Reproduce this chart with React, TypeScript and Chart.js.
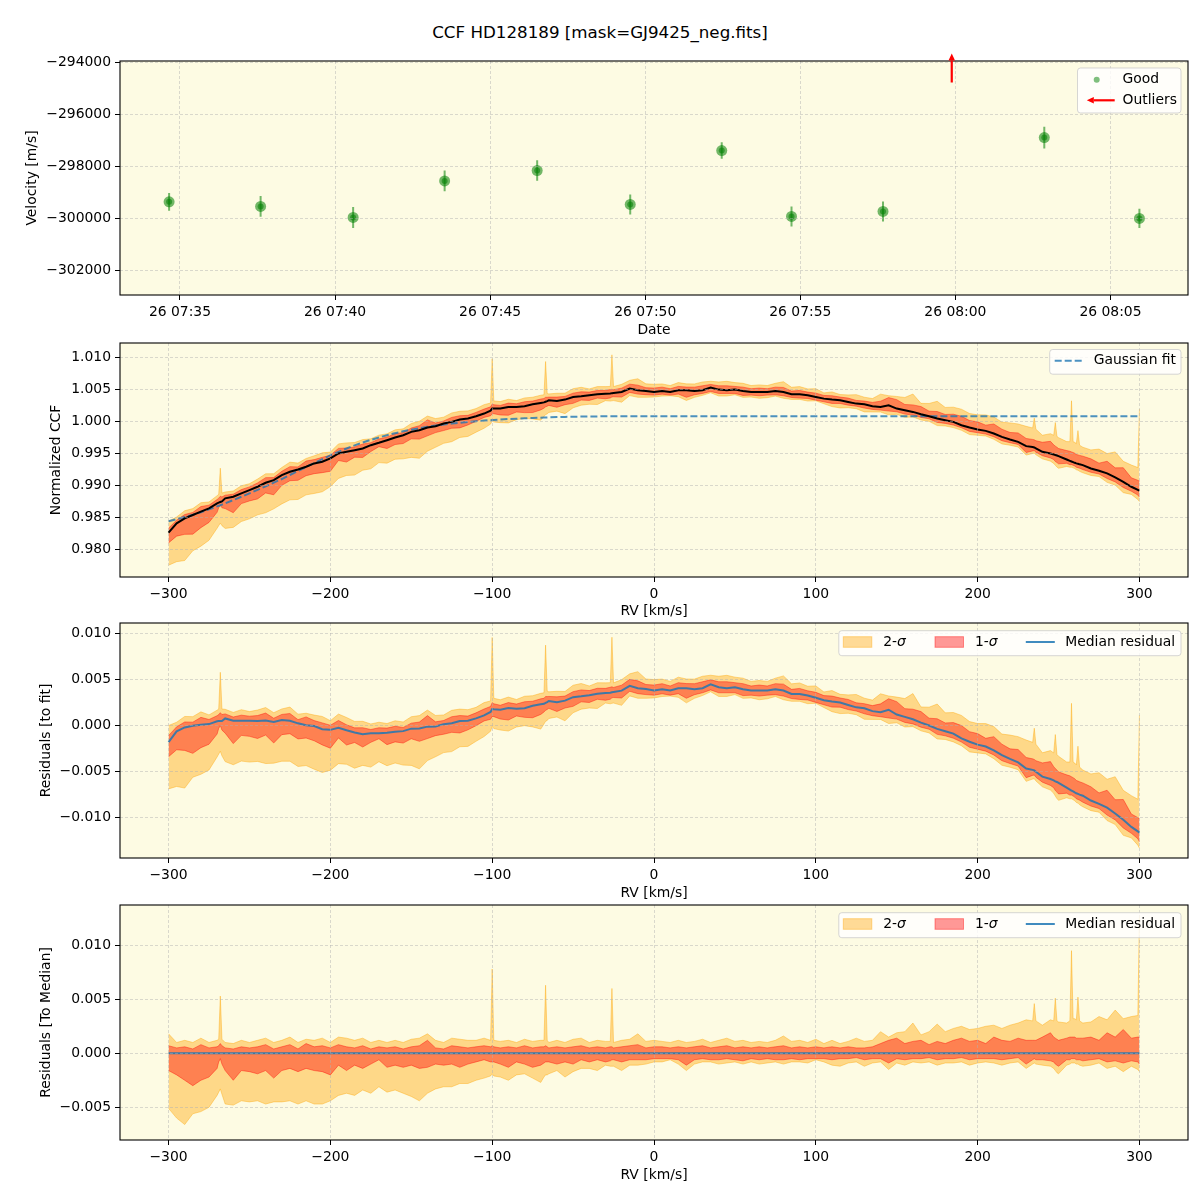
import React, { useEffect, useRef } from "react";
import { Chart, registerables } from "chart.js";
Chart.register(...registerables);

const FONT = "DejaVu Sans";
const FS = 13.9;
const BG = "#fdfbe3";
const GRID = "rgba(176,176,176,0.6)";
const ORANGE = "rgba(255,165,0,0.4)";
const RED = "rgba(255,0,0,0.4)";
const BLUE = "rgba(31,119,180,0.85)";
const GREEN = "rgba(0,128,0,0.55)";

const TITLE = "CCF HD128189 [mask=GJ9425_neg.fits]";

// ---------- Panel 1: velocity time series ----------
const OBS_DAY = "26";
const OBS_TIMES = ["07:34:39", "07:37:36", "07:40:35", "07:43:32", "07:46:31", "07:49:31", "07:52:28", "07:54:43", "07:57:40", "08:02:52", "08:05:56"];
const OBS_VEL = [-299362, -299538, -299962, -298554, -298154, -299462, -297385, -299923, -299731, -296885, -300000];
const OBS_ERR = [346, 400, 404, 397, 397, 385, 320, 385, 385, 417, 372];
const OUTLIER_TIMES = ["07:59:53"];
const TIME_TICKS = ["07:35", "07:40", "07:45", "07:50", "07:55", "08:00", "08:05"];
const VEL_TICKS = [-302000, -300000, -298000, -296000, -294000];

// ---------- CCF panels ----------
const RV = [
  -300, -295, -290, -285, -280, -275, -270, -269, -268, -267,
  -265, -260, -255, -250, -245, -240, -235, -230, -225, -220,
  -215, -210, -205, -200, -195, -190, -185, -180, -175, -170,
  -165, -160, -155, -150, -145, -140, -135, -130, -125, -120,
  -115, -110, -105, -101, -100, -99, -95, -90, -85, -80,
  -75, -70, -68, -67, -66, -65, -60, -55, -50, -45,
  -40, -35, -30, -27, -26, -25, -20, -15, -10, -5,
  0, 5, 10, 15, 20, 25, 30, 35, 40, 45,
  50, 55, 60, 65, 70, 75, 80, 85, 90, 95,
  100, 105, 110, 115, 120, 125, 130, 135, 140, 145,
  150, 155, 160, 165, 170, 175, 180, 185, 190, 195,
  200, 205, 210, 215, 220, 225, 230, 234, 235, 236,
  240, 245, 247, 248, 249, 250, 255, 257, 258, 259,
  260, 261, 262, 263, 265, 270, 275, 280, 285, 290,
  295, 299, 300,
];

const MEDIAN_CCF = [
  0.98260, 0.98406, 0.98484, 0.98537, 0.98589, 0.98641, 0.98719, 0.98730, 0.98740, 0.98750,
  0.98797, 0.98823, 0.98875, 0.98927, 0.98979, 0.99042, 0.99083, 0.99161, 0.99214, 0.99250,
  0.99292, 0.99344, 0.99370, 0.99422, 0.99500, 0.99526, 0.99552, 0.99578, 0.99630, 0.99667,
  0.99708, 0.99750, 0.99786, 0.99839, 0.99865, 0.99906, 0.99927, 0.99969, 0.99995, 1.00031,
  1.00047, 1.00083, 1.00125, 1.00170, 1.00203, 1.00203, 1.00203, 1.00229, 1.00229, 1.00240,
  1.00271, 1.00292, 1.00300, 1.00310, 1.00320, 1.00333, 1.00323, 1.00344, 1.00385, 1.00396,
  1.00411, 1.00427, 1.00437, 1.00440, 1.00445, 1.00448, 1.00463, 1.00516, 1.00490, 1.00480,
  1.00464, 1.00479, 1.00464, 1.00490, 1.00490, 1.00479, 1.00490, 1.00531, 1.00500, 1.00490,
  1.00500, 1.00479, 1.00464, 1.00464, 1.00464, 1.00479, 1.00464, 1.00427, 1.00427, 1.00411,
  1.00385, 1.00359, 1.00344, 1.00333, 1.00307, 1.00281, 1.00271, 1.00240, 1.00229, 1.00255,
  1.00203, 1.00177, 1.00151, 1.00115, 1.00083, 1.00047, 1.00021, 0.99995, 0.99943, 0.99906,
  0.99875, 0.99854, 0.99812, 0.99760, 0.99719, 0.99682, 0.99615, 0.99600, 0.99594, 0.99580,
  0.99526, 0.99500, 0.99485, 0.99475, 0.99468, 0.99458, 0.99406, 0.99385, 0.99375, 0.99365,
  0.99354, 0.99345, 0.99338, 0.99330, 0.99318, 0.99266, 0.99229, 0.99188, 0.99125, 0.99057,
  0.98979, 0.98930, 0.98917,
];

const GAUSS_FIT = [
  0.98440, 0.98470, 0.98505, 0.98540, 0.98580, 0.98625, 0.98672, 0.98681, 0.98690, 0.98700,
  0.98720, 0.98770, 0.98822, 0.98875, 0.98930, 0.98986, 0.99043, 0.99100, 0.99163, 0.99226,
  0.99288, 0.99350, 0.99411, 0.99469, 0.99525, 0.99578, 0.99627, 0.99672, 0.99713, 0.99751,
  0.99786, 0.99818, 0.99847, 0.99873, 0.99897, 0.99918, 0.99937, 0.99954, 0.99969, 0.99982,
  0.99994, 1.00005, 1.00015, 1.00022, 1.00024, 1.00026, 1.00032, 1.00039, 1.00045, 1.00051,
  1.00056, 1.00061, 1.00063, 1.00064, 1.00065, 1.00066, 1.00070, 1.00073, 1.00076, 1.00078,
  1.00080, 1.00081, 1.00082, 1.00083, 1.00083, 1.00083, 1.00083, 1.00083, 1.00083, 1.00083,
  1.00083, 1.00083, 1.00083, 1.00083, 1.00083, 1.00083, 1.00083, 1.00083, 1.00083, 1.00083,
  1.00083, 1.00083, 1.00083, 1.00083, 1.00083, 1.00083, 1.00083, 1.00083, 1.00083, 1.00083,
  1.00083, 1.00083, 1.00083, 1.00083, 1.00083, 1.00083, 1.00083, 1.00083, 1.00083, 1.00083,
  1.00083, 1.00083, 1.00083, 1.00083, 1.00083, 1.00083, 1.00083, 1.00083, 1.00083, 1.00083,
  1.00083, 1.00083, 1.00083, 1.00083, 1.00083, 1.00083, 1.00083, 1.00083, 1.00083, 1.00083,
  1.00083, 1.00083, 1.00083, 1.00083, 1.00083, 1.00083, 1.00083, 1.00083, 1.00083, 1.00083,
  1.00083, 1.00083, 1.00083, 1.00083, 1.00083, 1.00083, 1.00083, 1.00083, 1.00083, 1.00083,
  1.00083, 1.00083, 1.00083,
];

// band offsets from the median, in units of 1e-4
const LO2_E4 = [
  -51, -60, -66, -56, -54, -50, -39, -36, -33, -38,
  -47, -48, -44, -45, -44, -47, -45, -45, -44, -47,
  -44, -47, -47, -44, -39, -37, -39, -34, -37, -31,
  -36, -34, -37, -40, -44, -37, -33, -31, -31, -28,
  -28, -25, -23, -21, -19, -21, -22, -25, -20, -19,
  -23, -27, -22, -20, -20, -19, -16, -22, -17, -14,
  -14, -16, -11, -12, -12, -12, -16, -11, -11, -10,
  -8, -8, -6, -10, -16, -10, -8, -8, -10, -9,
  -8, -10, -8, -10, -9, -8, -10, -8, -8, -9,
  -6, -8, -11, -12, -9, -8, -12, -9, -8, -15,
  -9, -11, -8, -9, -8, -11, -9, -9, -8, -11,
  -9, -8, -9, -11, -9, -8, -14, -10, -9, -10,
  -11, -12, -14, -16, -18, -19, -11, -10, -9, -9,
  -9, -10, -10, -11, -12, -11, -9, -14, -12, -17,
  -12, -15, -17,
];
const LO1_E4 = [
  -16, -20, -25, -30, -25, -22, -14, -8, -5, -10,
  -16, -25, -16, -17, -19, -16, -23, -16, -14, -17,
  -14, -16, -17, -20, -11, -16, -11, -14, -10, -6,
  -13, -11, -13, -11, -14, -13, -10, -11, -10, -13,
  -10, -8, -6, -8, -8, -8, -10, -13, -8, -10,
  -13, -11, -9, -8, -8, -8, -10, -8, -10, -6,
  -8, -6, -8, -7, -6, -6, -8, -6, -6, -6,
  -5, -5, -5, -6, -11, -6, -5, -6, -6, -5,
  -6, -7, -5, -6, -5, -6, -6, -5, -6, -5,
  -5, -5, -6, -5, -5, -4, -6, -5, -5, -9,
  -5, -6, -5, -5, -4, -6, -5, -5, -4, -6,
  -5, -5, -5, -6, -5, -4, -10, -6, -5, -6,
  -6, -7, -8, -10, -11, -12, -6, -6, -5, -5,
  -5, -6, -6, -6, -7, -6, -5, -8, -7, -9,
  -7, -8, -10,
];
const HI1_E4 = [
  7, 5, 6, 4, 8, 5, 6, 7, 9, 7,
  5, 4, 6, 5, 6, 8, 4, 6, 8, 4,
  9, 6, 7, 5, 8, 6, 5, 7, 4, 6,
  5, 6, 4, 6, 7, 12, 5, 4, 7, 6,
  5, 6, 7, 6, 7, 6, 5, 6, 5, 7,
  5, 6, 6, 7, 6, 5, 6, 5, 6, 7,
  5, 6, 5, 6, 6, 5, 6, 7, 8, 5,
  6, 6, 5, 6, 5, 6, 7, 5, 6, 7,
  5, 6, 5, 6, 5, 6, 7, 5, 6, 5,
  6, 5, 6, 5, 6, 5, 5, 6, 9, 12,
  14, 9, 11, 12, 8, 11, 9, 12, 14, 11,
  12, 9, 15, 12, 11, 14, 12, 12, 12, 12,
  15, 19, 15, 14, 13, 12, 14, 15, 15, 15,
  15, 14, 14, 14, 14, 15, 12, 19, 15, 22,
  14, 15, 15,
];
const HI2_E4 = [
  18, 10, 12, 10, 14, 10, 12, 13, 53, 13,
  10, 9, 12, 10, 12, 14, 10, 12, 15, 10,
  13, 12, 14, 10, 15, 14, 12, 14, 10, 12,
  10, 12, 10, 13, 14, 18, 12, 10, 14, 13,
  12, 12, 14, 12, 78, 12, 11, 12, 10, 13,
  11, 12, 12, 63, 12, 10, 12, 10, 13, 14,
  10, 12, 11, 11, 60, 10, 12, 13, 18, 11,
  12, 11, 10, 12, 10, 11, 13, 10, 12, 14,
  11, 12, 10, 11, 10, 12, 16, 11, 12, 10,
  13, 9, 12, 9, 11, 14, 11, 12, 20, 15,
  19, 20, 28, 17, 20, 27, 20, 23, 25, 22,
  23, 25, 26, 23, 26, 28, 31, 30, 46, 30,
  26, 31, 30, 51, 30, 29, 28, 30, 95, 32,
  32, 31, 52, 30, 28, 29, 34, 31, 40, 32,
  34, 35, 128,
];

const RV_TICKS = [-300, -200, -100, 0, 100, 200, 300];
const CCF_TICKS = [0.98, 0.985, 0.99, 0.995, 1.0, 1.005, 1.01];
const RES_TICKS = [-0.01, -0.005, 0, 0.005, 0.01];
const TOMED_TICKS = [-0.005, 0, 0.005, 0.01];

// ---------- helpers ----------
function minutesOf(t: string): number {
  const p = t.split(":").map(Number);
  return (p[0] - 7) * 60 + p[1] + (p[2] || 0) / 60;
}
function minusFmt(v: number, d: number): string {
  const s = Math.abs(v).toFixed(d);
  return (v < -1e-12 ? "\u2212" : "") + s;
}
function timeLabel(v: number): string {
  const tot = Math.round(v);
  const h = 7 + Math.floor(tot / 60);
  const m = tot % 60;
  return `${OBS_DAY} ${String(h).padStart(2, "0")}:${String(m).padStart(2, "0")}`;
}

function xScale(min: number, max: number, ticks: number[], fmt: (v: number) => string, title: string, height: number) {
  return {
    type: "linear", position: "bottom", min, max,
    afterBuildTicks: (s: any) => { s.ticks = ticks.map((v) => ({ value: v })); },
    afterFit: (s: any) => { s.height = height; s.paddingLeft = 0; s.paddingRight = 0; },
    grid: { color: GRID, lineWidth: 0.8, z: 1, drawTicks: true, tickLength: 5, tickColor: "#000", tickWidth: 1 },
    border: { display: false, dash: [3, 2] },
    ticks: { color: "#000", font: { family: FONT, size: FS }, padding: 4, maxRotation: 0, autoSkip: false, callback: (v: any) => fmt(Number(v)) },
    title: { display: true, text: title, color: "#000", font: { family: FONT, size: FS }, padding: 0 },
  };
}
function yScale(min: number, max: number, ticks: number[], fmt: (v: number) => string, title: string, width: number) {
  return {
    type: "linear", position: "left", min, max,
    afterBuildTicks: (s: any) => { s.ticks = ticks.map((v) => ({ value: v })); },
    afterFit: (s: any) => { s.width = width; s.paddingTop = 0; s.paddingBottom = 0; },
    grid: { color: GRID, lineWidth: 0.8, z: 1, drawTicks: true, tickLength: 5, tickColor: "#000", tickWidth: 1 },
    border: { display: false, dash: [3, 2] },
    ticks: { color: "#000", font: { family: FONT, size: FS }, padding: 4, autoSkip: false, callback: (v: any) => fmt(Number(v)) },
    title: { display: true, text: title, color: "#000", font: { family: FONT, size: FS }, padding: 0 },
  };
}

const bgPlugin = {
  id: "bg",
  beforeDraw(chart: any) {
    const { ctx, chartArea: a } = chart;
    ctx.save();
    ctx.fillStyle = BG;
    ctx.fillRect(a.left, a.top, a.right - a.left, a.bottom - a.top);
    ctx.restore();
  },
};
const framePlugin = {
  id: "frame",
  afterDraw(chart: any) {
    const { ctx, chartArea: a } = chart;
    ctx.save();
    ctx.strokeStyle = "#000";
    ctx.lineWidth = 1.1;
    ctx.strokeRect(a.left, a.top, a.right - a.left, a.bottom - a.top);
    ctx.restore();
  },
};

function legendBox(ctx: CanvasRenderingContext2D, x: number, y: number, w: number, h: number) {
  const r = 3;
  ctx.save();
  ctx.beginPath();
  ctx.moveTo(x + r, y);
  ctx.lineTo(x + w - r, y);
  ctx.arcTo(x + w, y, x + w, y + r, r);
  ctx.lineTo(x + w, y + h - r);
  ctx.arcTo(x + w, y + h, x + w - r, y + h, r);
  ctx.lineTo(x + r, y + h);
  ctx.arcTo(x, y + h, x, y + h - r, r);
  ctx.lineTo(x, y + r);
  ctx.arcTo(x, y, x + r, y, r);
  ctx.closePath();
  ctx.fillStyle = "rgba(255,255,255,0.8)";
  ctx.fill();
  ctx.strokeStyle = "rgba(204,204,204,0.8)";
  ctx.lineWidth = 1;
  ctx.stroke();
  ctx.restore();
}
function legendText(ctx: CanvasRenderingContext2D, text: string, x: number, y: number, italicTail?: string) {
  ctx.save();
  ctx.fillStyle = "#000";
  ctx.textBaseline = "middle";
  ctx.textAlign = "left";
  ctx.font = `${FS}px "${FONT}"`;
  ctx.fillText(text, x, y);
  if (italicTail) {
    const w = ctx.measureText(text).width;
    ctx.font = `italic ${FS}px "${FONT}"`;
    ctx.fillText(italicTail, x + w, y);
  }
  ctx.restore();
}
function arrow(ctx: CanvasRenderingContext2D, x1: number, y1: number, x2: number, y2: number, color: string, lw: number, hl: number, hw: number) {
  const ang = Math.atan2(y2 - y1, x2 - x1);
  const c = Math.cos(ang), s = Math.sin(ang);
  const bx = x2 - hl * c, by = y2 - hl * s;
  ctx.save();
  ctx.strokeStyle = color;
  ctx.fillStyle = color;
  ctx.lineWidth = lw;
  ctx.beginPath();
  ctx.moveTo(x1, y1);
  ctx.lineTo(bx, by);
  ctx.stroke();
  ctx.beginPath();
  ctx.moveTo(x2, y2);
  ctx.lineTo(bx - (hw / 2) * s, by + (hw / 2) * c);
  ctx.lineTo(bx + (hw / 2) * s, by - (hw / 2) * c);
  ctx.closePath();
  ctx.fill();
  ctx.restore();
}

function baseOptions(pad: any, scales: any) {
  return {
    responsive: false,
    animation: false,
    devicePixelRatio: 1,
    events: [],
    layout: { padding: pad },
    plugins: { legend: { display: false }, tooltip: { enabled: false }, filler: { drawTime: "beforeDatasetsDraw" } },
    scales,
  };
}

function makeP1(canvas: HTMLCanvasElement) {
  const t = OBS_TIMES.map(minutesOf);
  const good = t.map((x, i) => ({ x, y: OBS_VEL[i] }));
  const bars: any[] = [];
  t.forEach((x, i) => {
    bars.push({ x, y: OBS_VEL[i] - OBS_ERR[i] });
    bars.push({ x, y: OBS_VEL[i] + OBS_ERR[i] });
    bars.push({ x, y: null });
  });
  const overlay = {
    id: "p1overlay",
    afterDraw(chart: any) {
      const { ctx, chartArea: a, scales } = chart;
      OUTLIER_TIMES.forEach((tt) => {
        const x = scales.x.getPixelForValue(minutesOf(tt));
        arrow(ctx, x, a.top + 21.5, x, a.top - 7.5, "#ff0000", 2.2, 7, 6.5);
      });
      const bw = 103.5, bh = 45;
      const bx = a.right - 7 - bw, by = a.top + 7;
      legendBox(ctx, bx, by, bw, bh);
      ctx.save();
      ctx.fillStyle = "rgba(0,128,0,0.5)";
      ctx.beginPath();
      ctx.arc(bx + 19.2, by + 11.8, 3, 0, Math.PI * 2);
      ctx.fill();
      ctx.restore();
      legendText(ctx, "Good", bx + 45, by + 11.8);
      arrow(ctx, bx + 37.2, by + 32.3, bx + 9.3, by + 32.3, "#ff0000", 2.2, 7, 6.5);
      legendText(ctx, "Outliers", bx + 45, by + 32.3);
    },
  };
  return new Chart(canvas, {
    type: "line",
    data: {
      datasets: [
        { label: "Good", data: good, showLine: false, pointRadius: 3, pointBackgroundColor: GREEN, pointBorderWidth: 0 } as any,
        { label: "marker", data: good, showLine: false, pointRadius: 5.5, pointBackgroundColor: GREEN, pointBorderWidth: 0 } as any,
        { label: "err", data: bars, borderColor: GREEN, borderWidth: 2, pointRadius: 0, spanGaps: false, fill: false } as any,
      ],
    },
    options: baseOptions({ left: 24.16, right: 12, top: 21, bottom: 1.66 }, {
      x: xScale(minutesOf("07:33:04"), minutesOf("08:07:30"), TIME_TICKS.map(minutesOf), timeLabel, "Date", 43.34),
      y: yScale(-302950, -293935, VEL_TICKS, (v) => minusFmt(v, 0), "Velocity [m/s]", 95.84),
    }) as any,
    plugins: [bgPlugin, framePlugin, overlay],
  });
}

type BandCfg = {
  base: number[];
  fit?: number[];
  centerColor: string;
  centerWidth: number;
  yMin: number; yMax: number; yTicks: number[]; yTitle: string;
  pad: any; xH: number; yW: number;
  legend: "fit" | "bands";
};

function makeBand(canvas: HTMLCanvasElement, cfg: BandCfg) {
  const pts = (f: (i: number) => number) => RV.map((x, i) => ({ x, y: f(i) }));
  const datasets: any[] = [
    { label: "center", data: pts((i) => cfg.base[i]), borderColor: cfg.centerColor, borderWidth: cfg.centerWidth, pointRadius: 0, fill: false, order: 0 },
    { label: "fit", data: cfg.fit ? pts((i) => cfg.fit![i]) : [], borderColor: "rgba(31,119,180,0.8)", borderWidth: 2, borderDash: [7, 3], pointRadius: 0, fill: false, order: 1 },
    { label: "hi1", data: pts((i) => cfg.base[i] + HI1_E4[i] * 1e-4), borderColor: RED, backgroundColor: RED, borderWidth: 1, pointRadius: 0, fill: "+1", order: 2 },
    { label: "lo1", data: pts((i) => cfg.base[i] + LO1_E4[i] * 1e-4), borderColor: RED, borderWidth: 1, pointRadius: 0, fill: false, order: 2 },
    { label: "hi2", data: pts((i) => cfg.base[i] + HI2_E4[i] * 1e-4), borderColor: ORANGE, backgroundColor: ORANGE, borderWidth: 1, pointRadius: 0, fill: "+1", order: 3 },
    { label: "lo2", data: pts((i) => cfg.base[i] + LO2_E4[i] * 1e-4), borderColor: ORANGE, borderWidth: 1, pointRadius: 0, fill: false, order: 3 },
  ];
  const overlay = {
    id: "bandlegend",
    afterDraw(chart: any) {
      const { ctx, chartArea: a } = chart;
      if (cfg.legend === "fit") {
        const bw = 131.3, bh = 24.7;
        const bx = a.right - 7 - bw, by = a.top + 6.5;
        legendBox(ctx, bx, by, bw, bh);
        ctx.save();
        ctx.strokeStyle = "rgba(31,119,180,0.8)";
        ctx.lineWidth = 2;
        ctx.setLineDash([7, 3]);
        ctx.beginPath();
        ctx.moveTo(bx + 5, by + 11.2);
        ctx.lineTo(bx + 33.5, by + 11.2);
        ctx.stroke();
        ctx.restore();
        legendText(ctx, "Gaussian fit", bx + 44, by + 11.2);
      } else {
        const bw = 342.2, bh = 25;
        const bx = a.right - 7 - bw, by = a.top + 7.7;
        legendBox(ctx, bx, by, bw, bh);
        const cy = by + 11.3;
        ctx.save();
        ctx.fillStyle = ORANGE; ctx.strokeStyle = ORANGE; ctx.lineWidth = 1;
        ctx.fillRect(bx + 4.5, cy - 5.3, 28.5, 10.6);
        ctx.strokeRect(bx + 4.5, cy - 5.3, 28.5, 10.6);
        ctx.fillStyle = RED; ctx.strokeStyle = RED;
        ctx.fillRect(bx + 96.2, cy - 5.3, 28.5, 10.6);
        ctx.strokeRect(bx + 96.2, cy - 5.3, 28.5, 10.6);
        ctx.strokeStyle = BLUE; ctx.lineWidth = 2;
        ctx.beginPath(); ctx.moveTo(bx + 187, cy); ctx.lineTo(bx + 216, cy); ctx.stroke();
        ctx.restore();
        legendText(ctx, "2-", bx + 44.4, cy, "\u03c3");
        legendText(ctx, "1-", bx + 136.2, cy, "\u03c3");
        legendText(ctx, "Median residual", bx + 226.4, cy);
      }
    },
  };
  return new Chart(canvas, {
    type: "line",
    data: { datasets },
    options: baseOptions(cfg.pad, {
      x: xScale(-330, 330, RV_TICKS, (v) => minusFmt(v, 0), "RV [km/s]", cfg.xH),
      y: yScale(cfg.yMin, cfg.yMax, cfg.yTicks, (v) => minusFmt(v, 3), cfg.yTitle, cfg.yW),
    }) as any,
    plugins: [bgPlugin, framePlugin, overlay],
  });
}

export default function App() {
  const r1 = useRef<HTMLCanvasElement>(null);
  const r2 = useRef<HTMLCanvasElement>(null);
  const r3 = useRef<HTMLCanvasElement>(null);
  const r4 = useRef<HTMLCanvasElement>(null);

  useEffect(() => {
    Chart.defaults.font.family = FONT;
    const resid = MEDIAN_CCF.map((m, i) => m - GAUSS_FIT[i]);
    const zero = MEDIAN_CCF.map((m) => m - m);
    const charts = [
      makeP1(r1.current!),
      makeBand(r2.current!, {
        base: MEDIAN_CCF, fit: GAUSS_FIT, centerColor: "#000", centerWidth: 2,
        yMin: 0.97566, yMax: 1.0123, yTicks: CCF_TICKS, yTitle: "Normalized CCF",
        pad: { left: 47.96, right: 12, top: 3, bottom: 1.16 }, xH: 42.84, yW: 72.04, legend: "fit",
      }),
      makeBand(r3.current!, {
        base: resid, centerColor: BLUE, centerWidth: 2,
        yMin: -0.01443, yMax: 0.01117, yTicks: RES_TICKS, yTitle: "Residuals [to fit]",
        pad: { left: 37.66, right: 12, top: 2, bottom: 1.66 }, xH: 43.34, yW: 82.34, legend: "bands",
      }),
      makeBand(r4.current!, {
        base: zero, centerColor: BLUE, centerWidth: 2,
        yMin: -0.00803, yMax: 0.01373, yTicks: TOMED_TICKS, yTitle: "Residuals [To Median]",
        pad: { left: 37.66, right: 12, top: 2, bottom: 16.66 }, xH: 43.34, yW: 82.34, legend: "bands",
      }),
    ];
    return () => charts.forEach((c) => c.destroy());
  }, []);

  const cs = (top: number): React.CSSProperties => ({ position: "absolute", left: 0, top });
  return (
    <div style={{ position: "absolute", left: 0, top: 0, width: 1200, height: 1200, background: "#fff" }}>
      <div style={{ position: "absolute", left: 0, top: 21, width: 1200, textAlign: "center", fontFamily: FONT, fontSize: 16.7, lineHeight: "22px", color: "#000" }}>
        {TITLE}
      </div>
      <canvas ref={r1} width={1200} height={300} style={cs(40)} />
      <canvas ref={r2} width={1200} height={281} style={cs(340)} />
      <canvas ref={r3} width={1200} height={282} style={cs(621)} />
      <canvas ref={r4} width={1200} height={297} style={cs(903)} />
    </div>
  );
}
